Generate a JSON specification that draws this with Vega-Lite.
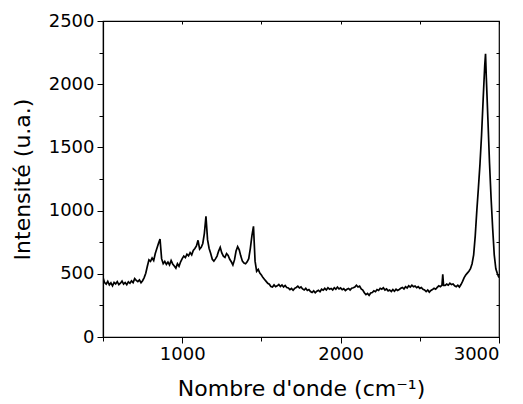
{
  "$schema": "https://vega.github.io/schema/vega-lite/v6.json",
  "width": 396,
  "height": 316,
  "autosize": {"type": "none"},
  "padding": {"left": 103, "top": 21, "right": 24, "bottom": 67},
  "background": "white",
  "config": {
    "view": {"stroke": "black", "strokeWidth": 1.2},
    "font": "DejaVu Sans",
    "axis": {"domainColor": "black", "tickColor": "black", "labelColor": "black", "titleColor": "black", "labelFont": "DejaVu Sans", "titleFont": "DejaVu Sans", "grid": false, "titleFontWeight": "normal"}
  },
  "data": {"values": [
    {"x":500,"y":470},{"x":510,"y":430},{"x":520,"y":418},{"x":530,"y":440},{"x":540,"y":412},{"x":550,"y":428},{"x":560,"y":405},{"x":570,"y":432},{"x":580,"y":420},{"x":590,"y":438},
    {"x":600,"y":415},{"x":610,"y":426},{"x":620,"y":442},{"x":630,"y":418},{"x":640,"y":431},{"x":650,"y":414},{"x":660,"y":436},{"x":670,"y":425},{"x":680,"y":444},{"x":690,"y":430},
    {"x":700,"y":462},{"x":710,"y":448},{"x":720,"y":438},{"x":730,"y":452},{"x":740,"y":430},{"x":750,"y":445},{"x":760,"y":470},{"x":770,"y":505},{"x":780,"y":560},{"x":790,"y":610},
    {"x":800,"y":598},{"x":810,"y":625},{"x":820,"y":605},{"x":830,"y":660},{"x":840,"y":700},{"x":850,"y":740},{"x":860,"y":775},{"x":870,"y":620},{"x":880,"y":580},{"x":890,"y":598},
    {"x":900,"y":575},{"x":910,"y":592},{"x":920,"y":570},{"x":930,"y":605},{"x":940,"y":578},{"x":950,"y":562},{"x":960,"y":545},{"x":970,"y":580},{"x":980,"y":560},{"x":990,"y":595},
    {"x":1000,"y":620},{"x":1010,"y":640},{"x":1020,"y":628},{"x":1030,"y":655},{"x":1040,"y":642},{"x":1050,"y":668},{"x":1060,"y":650},{"x":1070,"y":685},{"x":1080,"y":700},{"x":1090,"y":720},
    {"x":1100,"y":765},{"x":1110,"y":695},{"x":1120,"y":710},{"x":1130,"y":740},{"x":1140,"y":820},{"x":1150,"y":955},{"x":1160,"y":770},{"x":1170,"y":700},{"x":1180,"y":660},{"x":1190,"y":615},
    {"x":1200,"y":600},{"x":1210,"y":618},{"x":1220,"y":640},{"x":1230,"y":680},{"x":1240,"y":710},{"x":1250,"y":665},{"x":1260,"y":640},{"x":1270,"y":630},{"x":1280,"y":660},{"x":1290,"y":645},
    {"x":1300,"y":615},{"x":1310,"y":595},{"x":1320,"y":570},{"x":1330,"y":610},{"x":1340,"y":680},{"x":1350,"y":715},{"x":1360,"y":690},{"x":1370,"y":640},{"x":1380,"y":600},{"x":1390,"y":585},
    {"x":1400,"y":580},{"x":1410,"y":595},{"x":1420,"y":620},{"x":1430,"y":700},{"x":1440,"y":800},{"x":1450,"y":875},{"x":1460,"y":600},{"x":1470,"y":520},{"x":1480,"y":535},{"x":1490,"y":505},
    {"x":1500,"y":490},{"x":1510,"y":470},{"x":1520,"y":455},{"x":1530,"y":440},{"x":1540,"y":425},{"x":1550,"y":418},{"x":1560,"y":400},{"x":1570,"y":395},{"x":1580,"y":412},{"x":1590,"y":398},
    {"x":1600,"y":405},{"x":1610,"y":415},{"x":1620,"y":400},{"x":1630,"y":412},{"x":1640,"y":396},{"x":1650,"y":408},{"x":1660,"y":392},{"x":1670,"y":388},{"x":1680,"y":375},{"x":1690,"y":384},
    {"x":1700,"y":370},{"x":1710,"y":385},{"x":1720,"y":392},{"x":1730,"y":402},{"x":1740,"y":388},{"x":1750,"y":396},{"x":1760,"y":380},{"x":1770,"y":372},{"x":1780,"y":385},{"x":1790,"y":368},
    {"x":1800,"y":375},{"x":1810,"y":360},{"x":1820,"y":352},{"x":1830,"y":365},{"x":1840,"y":350},{"x":1850,"y":362},{"x":1860,"y":370},{"x":1870,"y":358},{"x":1880,"y":378},{"x":1890,"y":370},
    {"x":1900,"y":385},{"x":1910,"y":372},{"x":1920,"y":390},{"x":1930,"y":378},{"x":1940,"y":384},{"x":1950,"y":372},{"x":1960,"y":390},{"x":1970,"y":378},{"x":1980,"y":395},{"x":1990,"y":380},
    {"x":2000,"y":388},{"x":2010,"y":374},{"x":2020,"y":382},{"x":2030,"y":368},{"x":2040,"y":378},{"x":2050,"y":384},{"x":2060,"y":372},{"x":2070,"y":386},{"x":2080,"y":390},{"x":2090,"y":395},
    {"x":2100,"y":410},{"x":2110,"y":396},{"x":2120,"y":402},{"x":2130,"y":380},{"x":2140,"y":372},{"x":2150,"y":350},{"x":2160,"y":335},{"x":2170,"y":345},{"x":2180,"y":330},{"x":2190,"y":348},
    {"x":2200,"y":352},{"x":2210,"y":365},{"x":2220,"y":358},{"x":2230,"y":375},{"x":2240,"y":368},{"x":2250,"y":385},{"x":2260,"y":378},{"x":2270,"y":390},{"x":2280,"y":372},{"x":2290,"y":380},
    {"x":2300,"y":365},{"x":2310,"y":372},{"x":2320,"y":360},{"x":2330,"y":375},{"x":2340,"y":362},{"x":2350,"y":378},{"x":2360,"y":368},{"x":2370,"y":376},{"x":2380,"y":385},{"x":2390,"y":392},
    {"x":2400,"y":380},{"x":2410,"y":398},{"x":2420,"y":388},{"x":2430,"y":405},{"x":2440,"y":395},{"x":2450,"y":410},{"x":2460,"y":398},{"x":2470,"y":404},{"x":2480,"y":390},{"x":2490,"y":398},
    {"x":2500,"y":385},{"x":2510,"y":392},{"x":2520,"y":378},{"x":2530,"y":372},{"x":2540,"y":360},{"x":2550,"y":372},{"x":2560,"y":355},{"x":2570,"y":368},{"x":2580,"y":375},{"x":2590,"y":385},
    {"x":2600,"y":378},{"x":2610,"y":392},{"x":2620,"y":405},{"x":2630,"y":398},{"x":2640,"y":410},{"x":2645,"y":495},{"x":2650,"y":408},{"x":2660,"y":408},{"x":2670,"y":418},{"x":2680,"y":410},{"x":2690,"y":425},
    {"x":2700,"y":415},{"x":2710,"y":420},{"x":2720,"y":405},{"x":2730,"y":398},{"x":2740,"y":410},{"x":2750,"y":395},{"x":2760,"y":415},{"x":2770,"y":440},{"x":2780,"y":470},{"x":2790,"y":490},
    {"x":2800,"y":505},{"x":2810,"y":520},{"x":2820,"y":540},{"x":2830,"y":580},{"x":2840,"y":650},{"x":2850,"y":800},{"x":2860,"y":1000},{"x":2870,"y":1180},{"x":2880,"y":1370},{"x":2890,"y":1600},
    {"x":2900,"y":1880},{"x":2910,"y":2150},{"x":2915,"y":2240},{"x":2920,"y":2050},{"x":2930,"y":1720},{"x":2940,"y":1380},{"x":2950,"y":1100},{"x":2960,"y":860},{"x":2970,"y":650},{"x":2980,"y":540},
    {"x":2990,"y":500},{"x":3000,"y":470}
  ]},
  "layer": [
    {
      "mark": {"type": "line", "color": "black", "strokeWidth": 1.7, "clip": true},
      "encoding": {
        "x": {"field": "x", "type": "quantitative", "scale": {"domain": [500, 3000], "nice": false, "zero": false},
          "axis": {"orient": "bottom", "values": [500, 1000, 1500, 2000, 2500, 3000], "labelExpr": "datum.value % 1000 === 0 ? datum.label : ''", "format": "d",
            "tickSize": {"condition": {"test": "datum.value % 1000 === 0", "value": 6}, "value": 4}, "labelFontSize": 18, "labelPadding": 2, "domainWidth": 1.2,
            "title": "Nombre d'onde (cm⁻¹)", "titleFontSize": 22, "titlePadding": 15}},
        "y": {"field": "y", "type": "quantitative", "scale": {"domain": [0, 2500], "nice": false},
          "axis": {"orient": "left", "values": [0, 250, 500, 750, 1000, 1250, 1500, 1750, 2000, 2250, 2500], "labelExpr": "datum.value % 500 === 0 ? datum.label : ''", "format": "d",
            "tickSize": {"condition": {"test": "datum.value % 500 === 0", "value": 6}, "value": 4}, "labelFontSize": 18, "labelPadding": 3, "domainWidth": 1.2,
            "title": "Intensité (u.a.)", "titleFontSize": 22, "titlePadding": 14}}
      }
    },
    {
      "mark": {"type": "line", "color": "black", "strokeWidth": 0, "opacity": 0},
      "encoding": {
        "x": {"field": "x", "type": "quantitative", "scale": {"domain": [500, 3000], "nice": false, "zero": false},
          "axis": {"orient": "top", "values": [500, 1000, 1500, 2000, 2500, 3000], "labels": false, "tickSize": -3, "domain": false, "title": null}},
        "y": {"field": "y", "type": "quantitative", "scale": {"domain": [0, 2500], "nice": false},
          "axis": {"orient": "right", "values": [0, 250, 500, 750, 1000, 1250, 1500, 1750, 2000, 2250, 2500], "labels": false, "tickSize": -3, "domain": false, "title": null}}
      }
    }
  ],
  "resolve": {"axis": {"x": "independent", "y": "independent"}}
}
